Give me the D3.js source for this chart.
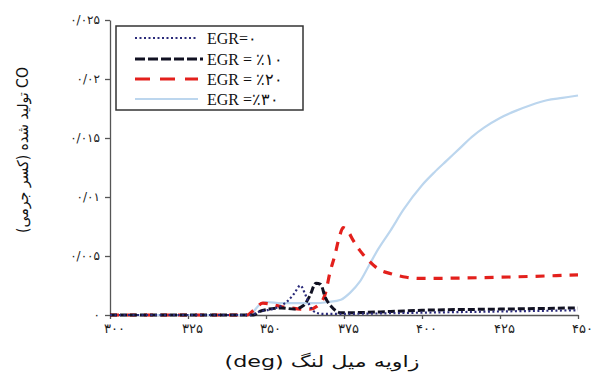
<!DOCTYPE html>
<html><head><meta charset="utf-8">
<script src="https://cdn.jsdelivr.net/npm/d3@7/dist/d3.min.js"></script>
<style>body{margin:0;background:#fff;}svg{display:block;font-family:"DejaVu Serif","Liberation Serif",serif;}</style>
</head><body><svg id="c" width="593" height="379"></svg>
<script>
// ---- data ----
const xTicks = [300, 325, 350, 375, 400, 425, 450];
const xTickLabels = ["۳۰۰", "۳۲۵", "۳۵۰", "۳۷۵", "۴۰۰", "۴۲۵", "۴۵۰"];
const yTicks = [0, 0.005, 0.01, 0.015, 0.02, 0.025];
const yTickLabels = ["۰", "۰/۰۰۵", "۰/۰۱", "۰/۰۱۵", "۰/۰۲", "۰/۰۲۵"];
const seriesNames = ["EGR=۰", "EGR = ٪۱۰", "EGR = ٪۲۰", "EGR =٪۳۰"];

const deg0 = [300, 345, 348, 352, 355, 357, 359, 361, 362.5, 364, 366, 368, 375, 400, 425, 450];
const co0  = [0, 0, 0.0003, 0.0005, 0.0008, 0.0012, 0.0018, 0.0025, 0.0018, 0.0008, 0.0002, 0.0001, 0.0001, 0.0002, 0.0003, 0.0004];

const deg10 = [300, 346, 348, 351, 355, 359, 362, 364, 366, 367.5, 369, 371, 374, 378, 390, 400, 425, 450];
const co10  = [0, 0, 0.0003, 0.0005, 0.0006, 0.0005, 0.0008, 0.0016, 0.0027, 0.0026, 0.0015, 0.0007, 0.0002, 0.0002, 0.0003, 0.0004, 0.0005, 0.0006];

const deg20 = [300, 344, 346, 349, 352, 355, 358, 361, 364, 367, 369, 370.5, 372, 373.5, 374.7, 376, 378, 380, 383, 386, 390, 395, 400, 425, 450];
const co20  = [0, 0, 0.0004, 0.001, 0.0009, 0.0007, 0.0006, 0.0005, 0.0005, 0.0009, 0.0018, 0.0036, 0.005, 0.0066, 0.0074, 0.0072, 0.0063, 0.0055, 0.0046, 0.0039, 0.0035, 0.0032, 0.0031, 0.0032, 0.0034];

const deg30 = [300, 344, 346, 348, 350, 355, 360, 365, 370, 374, 377, 380, 383, 386, 390, 394, 400, 404, 408, 412, 416, 420, 425, 430, 435, 440, 445, 450];
const co30  = [0, 0, 0.0003, 0.0009, 0.0011, 0.001, 0.001, 0.001, 0.0011, 0.0013, 0.0019, 0.0028, 0.0042, 0.0056, 0.0072, 0.0089, 0.011, 0.0121, 0.0131, 0.0141, 0.0151, 0.0159, 0.0167, 0.0173, 0.0178, 0.0182, 0.0184, 0.0186];

// ---- chart ----
const svg = d3.select("#c");
const x = d3.scaleLinear().domain([300, 450]).range([110, 578]);
const y = d3.scaleLinear().domain([0, 0.025]).range([315, 20]);

const xAxis = d3.axisBottom(x).tickValues(xTicks).tickSize(4).tickSizeOuter(0)
  .tickFormat((d, i) => xTickLabels[i]);
const gx = svg.append("g").attr("transform", "translate(0,315)").call(xAxis);
gx.select(".domain").attr("stroke", "#555").attr("stroke-width", 1.3);
gx.selectAll(".tick line").attr("stroke", "#555").attr("stroke-width", 1.3);
gx.selectAll(".tick text").attr("font-size", 13).attr("fill", "#222").attr("dy", "0.85em")
  .attr("x", 4).attr("letter-spacing", 1.5).attr("font-family", "DejaVu Sans");

const yAxis = d3.axisLeft(y).tickValues(yTicks).tickSize(5).tickSizeOuter(0)
  .tickFormat((d, i) => yTickLabels[i]);
const gy = svg.append("g").attr("transform", "translate(110,0)").call(yAxis);
gy.select(".domain").attr("stroke", "#555").attr("stroke-width", 1.3);
gy.selectAll(".tick line").attr("stroke", "#555").attr("stroke-width", 1.3);
gy.selectAll(".tick text").attr("font-size", 12).attr("fill", "#222").attr("x", -10)
  .attr("letter-spacing", 1.3).attr("font-family", "DejaVu Sans");

const styles = [
  {stroke: "#2b2b7a", width: 2.2, dash: "2,2.5", ldash: "2,2.5"},
  {stroke: "#111122", width: 3, dash: "7,3", ldash: "10,3"},
  {stroke: "#e3201c", width: 3.2, dash: "9,8", ldash: "15,10"},
  {stroke: "#bcd6ee", width: 2.2, dash: null, ldash: null}
];
const data = [
  deg0.map((d, i) => [d, co0[i]]),
  deg10.map((d, i) => [d, co10[i]]),
  deg20.map((d, i) => [d, co20[i]]),
  deg30.map((d, i) => [d, co30[i]])
];
const line = d3.line().x(d => x(d[0])).y(d => y(d[1])).curve(d3.curveMonotoneX);
[3, 2, 1, 0].forEach(k => {
  svg.append("path").datum(data[k]).attr("d", line).attr("fill", "none")
    .attr("stroke", styles[k].stroke).attr("stroke-width", styles[k].width)
    .attr("stroke-dasharray", styles[k].dash);
});

// legend
const lg = svg.append("g");
lg.append("rect").attr("x", 116).attr("y", 26).attr("width", 187).attr("height", 84)
  .attr("fill", "#fff").attr("stroke", "#333").attr("stroke-width", 1.5);
const rowsY = [38, 59, 79, 99];
seriesNames.forEach((n, i) => {
  lg.append("line").attr("x1", 135).attr("x2", i === 1 ? 203 : 198)
    .attr("y1", rowsY[i]).attr("y2", rowsY[i])
    .attr("stroke", styles[i].stroke).attr("stroke-width", styles[i].width)
    .attr("stroke-dasharray", styles[i].ldash);
  lg.append("text").attr("x", 207).attr("y", rowsY[i]).attr("dy", "0.35em")
    .attr("font-size", 16).attr("fill", "#111").attr("direction", "ltr")
    .attr("font-family", "Liberation Serif").text(n);
});

// axis titles
svg.append("text").attr("x", 322).attr("y", 367).attr("text-anchor", "middle")
  .attr("font-size", 16).attr("fill", "#111").attr("direction", "rtl")
  .attr("font-family", "DejaVu Sans")
  .attr("textLength", 195).attr("lengthAdjust", "spacingAndGlyphs")
  .text("زاویه میل لنگ (deg)");
svg.append("text").attr("transform", "translate(28,150) rotate(-90)")
  .attr("text-anchor", "middle").attr("font-size", 15).attr("fill", "#111")
  .attr("direction", "rtl").attr("font-family", "DejaVu Sans")
  .attr("textLength", 166).attr("lengthAdjust", "spacingAndGlyphs")
  .text("CO تولید شده (کسر جرمی)");
</script></body></html>
